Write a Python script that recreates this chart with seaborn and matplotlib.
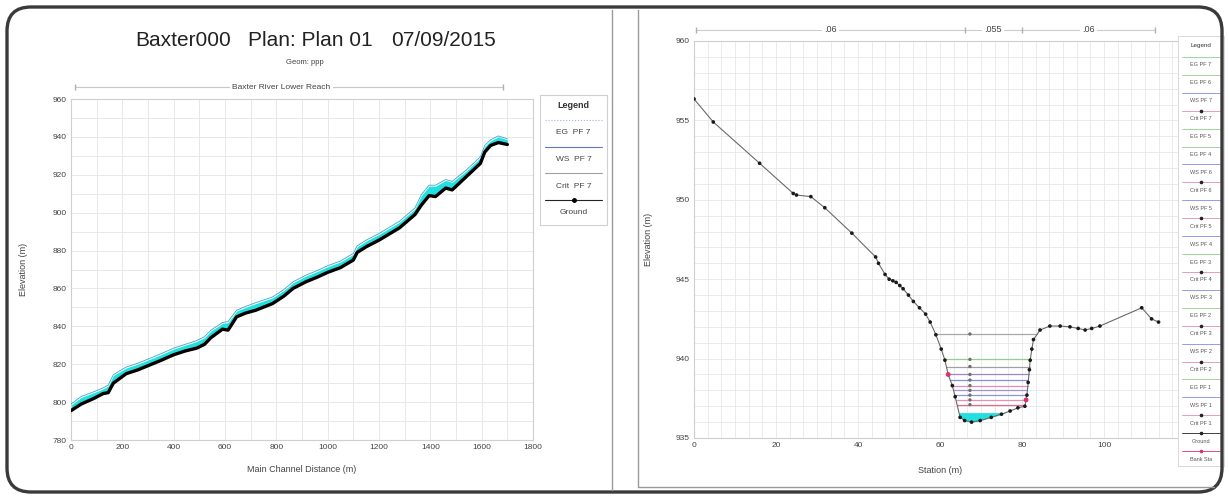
import numpy as np
import matplotlib
matplotlib.use('Agg')
import matplotlib.pyplot as plt
import matplotlib.transforms as mtransforms
from matplotlib.patches import FancyBboxPatch
from matplotlib.lines import Line2D
from matplotlib.ticker import MultipleLocator
import seaborn as sns

# --- perfil longitudinal (panel izquierdo) ---
distancia = [0, 40, 90, 125, 145, 165, 215, 260, 305, 350, 400, 445, 490, 520, 545,
             590, 612, 645, 680, 720, 785, 830, 865, 915, 960, 1000, 1050, 1100, 1115,
             1150, 1200, 1280, 1340, 1365, 1395, 1420, 1460, 1485, 1540, 1595, 1612,
             1635, 1665, 1700]
terreno = [795.5, 799, 802, 804.5, 805, 810, 815, 817, 819.5, 822, 825, 827, 828.5,
           830.5, 834, 838.5, 838, 845, 847, 848.5, 852, 856, 860, 863.5, 866, 868.5,
           871, 875, 879, 882, 885.5, 892, 899, 904, 909, 908.5, 913, 912, 919, 926,
           932, 935.5, 937, 936]
ws_pf7 = [798.5, 802.5, 805, 807, 808.5, 814, 818, 820, 822.5, 825, 828, 830, 832, 834,
          837.5, 841.5, 842, 848, 850, 852, 855, 859, 863, 866.5, 869, 871.5, 874, 878,
          882, 885, 888.5, 895, 902, 909, 914, 914, 917, 916, 922, 929, 935, 938, 940,
          938.5]
eg_pf7 = [799, 803, 805.5, 807.5, 809, 814.5, 818.5, 820.5, 823, 825.5, 828.5, 830.5,
          832.5, 834.5, 838, 842, 842.5, 848.5, 850.5, 852.5, 855.5, 859.5, 863.5, 867,
          869.5, 872, 874.5, 878.5, 882.5, 885.5, 889, 895.5, 902.5, 909.5, 914.5, 914.5,
          917.5, 916.5, 922.5, 929.5, 935.5, 938.5, 940.5, 939]

# --- sección transversal (panel derecho) ---
estacion = [0, 4.7, 16, 24.2, 25, 28.5, 31.9, 38.5, 44.3, 45.0, 46.6, 47.6, 48.5, 49.3,
            50.2, 51.0, 52.3, 53.5, 55.0, 56.5, 57.6, 59.0, 60.3, 61.2, 62.0, 63.0, 63.7,
            64.9, 66.0, 67.7, 69.8, 72.5, 75.0, 77.1, 79.0, 80.7, 81.2, 81.5, 81.8, 82.0,
            82.4, 82.8, 84.4, 86.8, 89.3, 91.7, 93.7, 95.4, 97.0, 99.0, 109.2, 111.6, 113.3]
cota = [956.35, 954.9, 952.3, 950.4, 950.3, 950.2, 949.5, 947.9, 946.4, 946.0, 945.3,
        945.0, 944.9, 944.8, 944.6, 944.4, 944.0, 943.6, 943.2, 942.8, 942.3, 941.5,
        940.6, 939.9, 939.0, 938.3, 937.6, 936.3, 936.1, 936.0, 936.1, 936.3, 936.5,
        936.7, 936.9, 937.0, 937.7, 938.5, 939.3, 939.9, 940.6, 941.2, 941.8, 942.05,
        942.05, 942.0, 941.9, 941.8, 941.9, 942.05, 943.2, 942.5, 942.3]
niveles = [941.55, 939.95, 939.5, 939.0, 938.65, 938.3, 938.0, 937.7, 937.4, 937.1]
colores_niveles = ['#a8a8a8', '#8fcf8f', '#a0a0a0', '#9f86cf', '#8090e0', '#e08fb0',
                   '#a88fd8', '#8898e0', '#e890b0', '#e06f8f']
ws_pf1 = 936.6
estacion_crit = 67.3
bancos_est = [62.0, 81.0]
bancos_cota = [939.0, 937.4]
n_valores = ['.06', '.055', '.06']
n_limites = [0.5, 66, 80, 112.5]

leyenda_izq = ['EG  PF 7', 'WS  PF 7', 'Crit  PF 7', 'Ground']
leyenda_der = ['EG PF 7', 'EG PF 6', 'WS PF 7', 'Crit PF 7', 'EG PF 5', 'EG PF 4',
               'WS PF 6', 'Crit PF 6', 'WS PF 5', 'Crit PF 5', 'WS PF 4', 'EG PF 3',
               'Crit PF 4', 'WS PF 3', 'EG PF 2', 'Crit PF 3', 'WS PF 2', 'Crit PF 2',
               'EG PF 1', 'WS PF 1', 'Crit PF 1', 'Ground', 'Bank Sta']

sns.set_theme(style='white')
plt.rcParams['font.family'] = ['Liberation Sans', 'DejaVu Sans']

W, H = 1229, 497
fig = plt.figure(figsize=(W / 100, H / 100), dpi=100)
fig.patch.set_facecolor('white')


def caja(x0, y0, x1, y1):
    # pixeles (arriba-izquierda) -> coordenadas de figura
    return [x0 / W, 1 - y1 / H, (x1 - x0) / W, (y1 - y0) / H]


gris_txt = '#444444'

# ================= panel izquierdo =================
ax1 = fig.add_axes(caja(71, 99, 533, 440))
ax1.fill_between(distancia, terreno, ws_pf7, color='#22e0e0', lw=0, zorder=2)
sns.lineplot(x=distancia, y=eg_pf7, ax=ax1, color='#3aa8c8', lw=0.6, zorder=3)
sns.lineplot(x=distancia, y=terreno, ax=ax1, color='black', lw=2.4, zorder=4)
ax1.set_xlim(0, 1800)
ax1.set_ylim(780, 960)
ax1.xaxis.set_major_locator(MultipleLocator(200))
ax1.yaxis.set_major_locator(MultipleLocator(20))
ax1.xaxis.set_minor_locator(MultipleLocator(100))
ax1.yaxis.set_minor_locator(MultipleLocator(10))
ax1.grid(which='both', color='#e8e8e8', lw=0.7)
ax1.tick_params(labelsize=6, colors=gris_txt, length=0, pad=3)
ax1.set_xlabel('Main Channel Distance (m)', fontsize=6.5, color=gris_txt, labelpad=10)
ax1.set_ylabel('Elevation (m)', fontsize=6.5, color=gris_txt, labelpad=18)
for s in ax1.spines.values():
    s.set_color('#cfcfcf')
    s.set_linewidth(0.8)

# línea del tramo
trans1 = mtransforms.blended_transform_factory(ax1.transData, ax1.transAxes)
ax1.plot([distancia[0] + 15, distancia[-1] - 15], [1.035, 1.035], color='#c8c8c8', lw=0.8,
         transform=trans1, clip_on=False)
ax1.plot([distancia[0] + 15, distancia[-1] - 15], [1.035, 1.035], ls='none', marker='|',
         ms=5, color='#b0b0b0', transform=trans1, clip_on=False)
ax1.text(np.mean([distancia[0], distancia[-1]]) - 30, 1.035, 'Baxter River Lower Reach',
         transform=trans1, fontsize=6, color=gris_txt, ha='center', va='center',
         bbox=dict(facecolor='white', edgecolor='none', pad=1.5))

# títulos
fig.text(183 / W, 1 - 40 / H, 'Baxter000', fontsize=15, ha='center', va='center', color='#222222')
fig.text(310 / W, 1 - 40 / H, 'Plan: Plan 01', fontsize=15, ha='center', va='center', color='#222222')
fig.text(444 / W, 1 - 40 / H, '07/09/2015', fontsize=15, ha='center', va='center', color='#222222')
fig.text(305 / W, 1 - 62 / H, 'Geom: ppp', fontsize=5.5, ha='center', va='center', color=gris_txt)

# leyenda izquierda
lg1 = fig.add_axes(caja(540, 95, 607, 225))
lg1.set_xlim(0, 1)
lg1.set_ylim(225, 95)
lg1.set_xticks([])
lg1.set_yticks([])
for s in lg1.spines.values():
    s.set_color('#d0d0d0')
    s.set_linewidth(0.8)
lg1.text(0.5, 106, 'Legend', fontsize=6.5, fontweight='bold', ha='center', va='center', color='#333333')
sim_izq = [dict(color='#9fb4d8', ls=':'), dict(color='#5f78c0', ls='-'),
           dict(color='#a0a0a0', ls='-'), dict(color='#222222', ls='-')]
for i, (etq, st) in enumerate(zip(leyenda_izq, sim_izq)):
    yl = 120 + i * 26.5
    lg1.plot([0.08, 0.92], [yl, yl], lw=0.8, **st)
    if etq == 'Ground':
        lg1.plot([0.5], [yl], marker='o', ms=2.5, color='black')
    lg1.text(0.5, yl + 13, etq, fontsize=6, ha='center', va='center', color='#444444')

# ================= panel derecho =================
ax2 = fig.add_axes(caja(694, 41, 1186, 438))
est = np.array(estacion)
ct = np.array(cota)
ax2.fill_between(est, ct, ws_pf1, where=(est > 63) & (est < 81) & (ct < ws_pf1),
                 interpolate=True, color='#22e0e0', lw=0, zorder=2)

izq = (est >= 44) & (est <= 67.7)
der = (est >= 69.8) & (est <= 86.8)
for nv, col in zip(niveles, colores_niveles):
    xa = np.interp(nv, ct[izq][::-1], est[izq][::-1])
    xb = np.interp(nv, ct[der], est[der])
    ax2.plot([xa, xb], [nv, nv], color=col, lw=0.9, zorder=3)
sns.scatterplot(x=[estacion_crit] * len(niveles), y=niveles, ax=ax2, s=6,
                color='#707070', edgecolor='none', zorder=4)

sns.lineplot(x=estacion, y=cota, ax=ax2, color='#6a6a6a', lw=0.8, zorder=5, sort=False)
sns.scatterplot(x=estacion, y=cota, ax=ax2, s=7, color='#1a1a1a', edgecolor='none', zorder=6)
sns.scatterplot(x=bancos_est, y=bancos_cota, ax=ax2, s=12, color='#e0306a', edgecolor='none', zorder=7)

ax2.set_xlim(0, 120)
ax2.set_ylim(935, 960)
ax2.xaxis.set_major_locator(MultipleLocator(20))
ax2.yaxis.set_major_locator(MultipleLocator(5))
ax2.xaxis.set_minor_locator(MultipleLocator(20 / 6))
ax2.yaxis.set_minor_locator(MultipleLocator(1))
ax2.grid(which='both', color='#e8e8e8', lw=0.6)
ax2.tick_params(labelsize=6, colors=gris_txt, length=0, pad=3)
ax2.set_xlabel('Station (m)', fontsize=6.5, color=gris_txt, labelpad=12)
ax2.set_ylabel('Elevation (m)', fontsize=6.5, color=gris_txt, labelpad=16)
for s in ax2.spines.values():
    s.set_color('#cfcfcf')
    s.set_linewidth(0.8)

# valores de rugosidad
trans2 = mtransforms.blended_transform_factory(ax2.transData, ax2.transAxes)
ax2.plot([n_limites[0], n_limites[-1]], [1.028, 1.028], color='#cccccc', lw=0.8,
         transform=trans2, clip_on=False)
ax2.plot(n_limites, [1.028] * len(n_limites), ls='none', marker='|', ms=4,
         color='#b0b0b0', transform=trans2, clip_on=False)
for j, nv in enumerate(n_valores):
    ax2.text((n_limites[j] + n_limites[j + 1]) / 2, 1.028, nv, transform=trans2,
             fontsize=6.5, color=gris_txt, ha='center', va='center',
             bbox=dict(facecolor='white', edgecolor='none', pad=1.5))

# leyenda derecha
lg2 = fig.add_axes(caja(1178, 36, 1224, 466))
lg2.set_facecolor('white')
lg2.set_xlim(0, 1)
lg2.set_ylim(466, 36)
lg2.set_xticks([])
lg2.set_yticks([])
for s in lg2.spines.values():
    s.set_color('#d8d8d8')
    s.set_linewidth(0.7)
lg2.text(0.5, 45, 'Legend', fontsize=4.5, ha='center', va='center', color='#333333')
paso = (466 - 54) / len(leyenda_der)
col_ley = {'EG': '#8fcf8f', 'WS': '#7f8fdf', 'Crit': '#e08fb0'}
for i, etq in enumerate(leyenda_der):
    y0 = 54 + i * paso
    tipo = etq.split()[0]
    c = col_ley.get(tipo, '#222222')
    if etq == 'Bank Sta':
        c = '#e0306a'
    lg2.plot([0.08, 0.92], [y0 + 3, y0 + 3], color=c, lw=0.6)
    if tipo in ('Crit', 'Ground', 'Bank'):
        lg2.plot([0.5], [y0 + 3], marker='o', ms=1.6, color='#222222' if tipo != 'Bank' else c)
    lg2.text(0.5, y0 + 11, etq, fontsize=4, ha='center', va='center', color='#555555')

# marco general y divisores
ident = mtransforms.IdentityTransform()
fig.add_artist(Line2D([612, 612], [H - 10, H - 490], color='#9a9a9a', lw=1.0, transform=ident))
fig.add_artist(Line2D([638, 638], [H - 10, H - 487], color='#9a9a9a', lw=1.0, transform=ident))
fig.add_artist(Line2D([638, 1214], [H - 487, H - 487], color='#9a9a9a', lw=1.0, transform=ident))
borde = FancyBboxPatch((7, 5), W - 14, H - 12, boxstyle='round,pad=0,rounding_size=24',
                       facecolor='none', edgecolor='#3a3a3a', lw=2.4, transform=ident)
fig.add_artist(borde)

fig.savefig('out.png', dpi=100, facecolor='white')
